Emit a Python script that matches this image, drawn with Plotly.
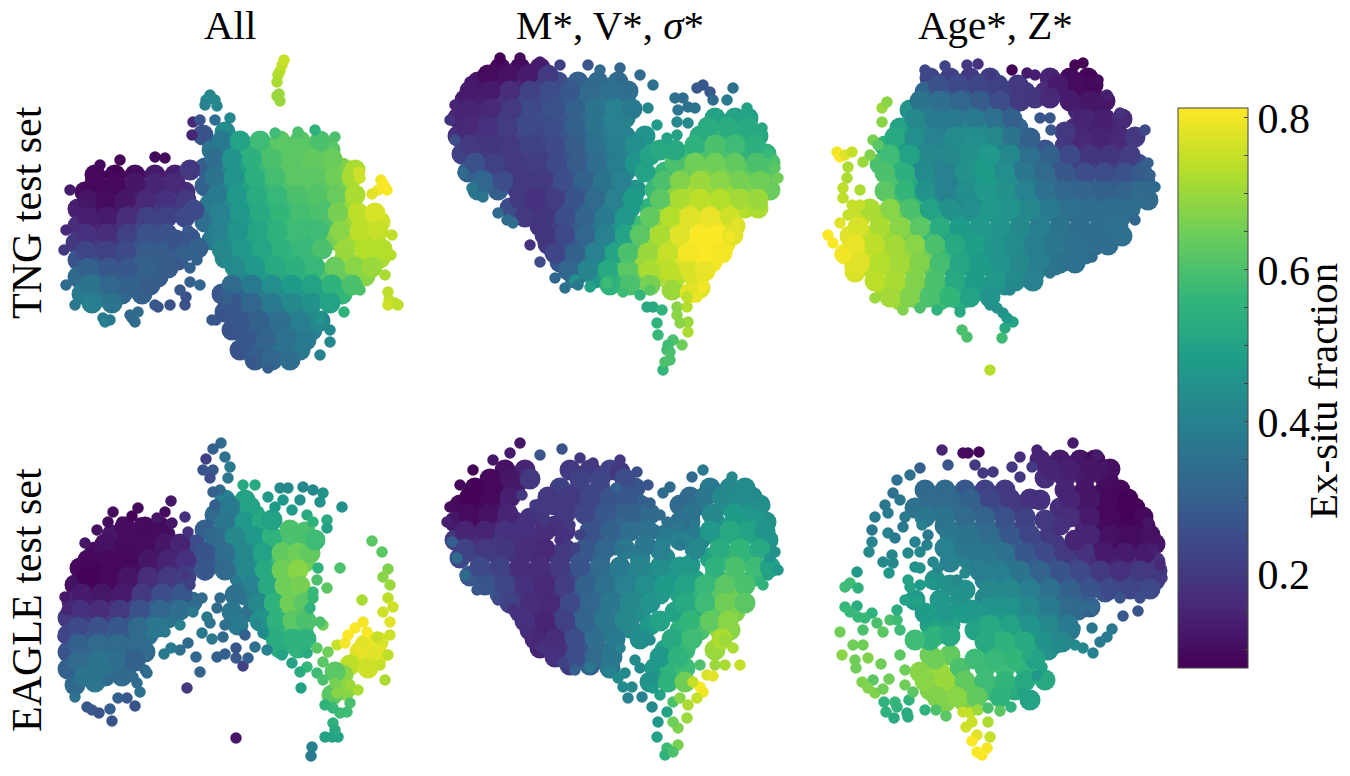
import plotly.graph_objects as go

# Each point: (horizontal, vertical, ex-situ fraction)
tng_all_core = [
(95,175,.09),(115,175,.08),(135,175,.1),(155,175,.13),(175,175,.14),
(85,192,.1),(105,192,.09),(125,192,.1),(145,192,.14),(165,192,.16),(185,192,.17),
(78,209,.14),(96,209,.11),(116,209,.12),(136,209,.17),(156,209,.2),(176,209,.2),
(78,226,.17),(98,226,.15),(118,226,.17),(138,226,.23),(158,226,.24),
(76,243,.2),(96,243,.2),(116,243,.2),(136,243,.27),(156,243,.28),
(78,260,.27),(98,260,.27),(118,260,.24),(138,260,.3),(158,260,.29),(178,260,.28),
(78,277,.33),(98,277,.33),(118,277,.29),(138,277,.3),(158,277,.29),
(82,294,.38),(102,294,.36),(122,294,.32),(142,294,.3),
(225,132,.43),(203,135,.27),
(212,150,.36),(230,150,.45),(250,150,.55),(270,150,.6),(290,150,.62),(310,150,.62),(330,150,.62),
(205,168,.3),(222,168,.42),(242,168,.5),(262,168,.58),(282,168,.62),(302,168,.63),(322,168,.63),(342,168,.67),(355,170,.72),
(205,186,.3),(225,186,.42),(245,186,.5),(265,186,.56),(285,186,.6),(305,186,.62),(325,186,.62),(345,186,.67),
(210,204,.38),(230,204,.44),(250,204,.5),(270,204,.55),(290,204,.58),(310,204,.6),(330,204,.6),(348,204,.7),
(205,222,.34),(225,222,.42),(245,222,.48),(265,222,.54),(285,222,.58),(305,222,.58),(325,222,.6),(345,222,.7),(365,222,.75),(380,222,.76),
(212,240,.38),(232,240,.45),(252,240,.5),(272,240,.54),(292,240,.58),(312,240,.57),(335,240,.66),(355,240,.72),(375,240,.73),
(225,258,.42),(245,258,.47),(265,258,.52),(285,258,.56),(305,258,.57),(345,258,.7),(365,258,.72),(380,258,.72),
(245,276,.42),(265,276,.48),(285,276,.52),(305,276,.55),(325,276,.6),(345,276,.64),(365,276,.68),
(222,294,.28),(242,294,.32),(262,294,.4),(282,294,.44),(302,294,.47),(322,294,.5),(342,294,.56),
(225,312,.27),(245,312,.3),(265,312,.36),(285,312,.38),(305,312,.42),
(232,330,.27),(252,330,.29),(272,330,.33),(292,330,.36),(312,330,.4),
(240,350,.27),(260,350,.3),(280,350,.36),(300,350,.38),
]
tng_all_fill = [
(95,183,.09),(115,183,.09),(135,183,.12),(155,183,.15),(175,183,.16),
(88,200,.12),(106,200,.1),(126,200,.12),(146,200,.16),(166,200,.18),(186,200,.2),
(88,217,.14),(107,217,.13),(127,217,.17),(147,217,.22),(167,217,.22),(185,217,.24),
(86,234,.18),(107,234,.17),(127,234,.22),(147,234,.26),(167,234,.26),
(86,251,.23),(106,251,.22),(126,251,.24),(146,251,.29),(166,251,.29),(186,251,.3),
(88,268,.3),(108,268,.28),(128,268,.28),(148,268,.3),(168,268,.29),
(90,285,.36),(110,285,.32),(130,285,.3),(150,285,.29),(92,303,.39),(112,303,.36),
(222,141,.38),(240,141,.5),(260,141,.58),(280,141,.62),(300,141,.62),(320,141,.6),
(215,159,.34),(232,159,.46),(252,159,.54),(272,159,.6),(292,159,.62),(312,159,.63),(332,159,.64),
(215,177,.36),(234,177,.46),(255,177,.54),(275,177,.59),(295,177,.62),(315,177,.62),(335,177,.65),(352,177,.72),
(217,195,.38),(237,195,.47),(257,195,.53),(277,195,.57),(297,195,.6),(317,195,.61),(337,195,.64),(355,195,.72),
(220,213,.4),(240,213,.47),(260,213,.52),(280,213,.56),(300,213,.59),(320,213,.6),(338,213,.66),(358,213,.74),(375,213,.77),
(218,231,.4),(238,231,.46),(258,231,.51),(278,231,.55),(298,231,.58),(318,231,.58),(340,231,.68),(360,231,.74),(378,231,.75),
(222,249,.42),(242,249,.47),(262,249,.51),(282,249,.55),(302,249,.57),(322,249,.6),(345,249,.7),(365,249,.73),(382,249,.73),
(235,267,.43),(255,267,.47),(275,267,.52),(295,267,.54),(315,267,.57),(335,267,.64),(355,267,.68),(372,267,.7),
(232,285,.33),(252,285,.38),(272,285,.44),(292,285,.48),(312,285,.5),(332,285,.55),(352,285,.6),
(232,303,.28),(252,303,.32),(272,303,.38),(292,303,.42),(312,303,.45),(330,303,.5),
(240,321,.28),(260,321,.3),(280,321,.34),(300,321,.39),(320,321,.42),
(246,340,.28),(266,340,.31),(286,340,.35),(306,340,.38),(255,360,.29),(272,360,.32),(290,360,.34),
(190,170,.2),(194,210,.24),(190,238,.27),(198,248,.3),(176,240,.27),
]
tng_all_edge = [
(284,60,.75),(282,65,.75),(280,71,.74),(278,75,.73),(277,82,.72),(277,96,.7),(280,101,.7),(279,94,.7),
(210,95,.42),(206,100,.42),(215,100,.42),(217,106,.42),(205,105,.4),
(381,180,.8),(384,185,.81),(387,190,.81),(378,190,.8),(372,194,.78),(359,172,.76),(360,178,.76),
(388,292,.74),(389,300,.75),(395,303,.74),(388,305,.76),(398,305,.74),
(103,318,.38),(105,322,.4),(110,320,.38),(130,315,.33),(132,318,.33),(135,322,.33),(138,312,.33),
(158,307,.27),(170,305,.26),(185,305,.26),(186,297,.26),
(193,122,.16),(192,135,.15),(155,157,.1),(165,158,.1),(120,160,.08),(100,165,.09),(70,190,.13),
(66,230,.16),(64,250,.2),(66,285,.33),(75,305,.37),(90,305,.4),(200,120,.27),(215,120,.34),(230,118,.42),
(298,132,.6),(315,130,.55),(335,137,.6),(275,133,.58),(392,235,.74),(391,255,.73),(385,275,.72),
(360,290,.6),(344,312,.55),(320,318,.45),(330,330,.42),(330,342,.42),(320,355,.4),(268,368,.3),(252,362,.28),(216,320,.27),(212,320,.28),
(228,298,.3),(182,250,.3),(190,268,.3),(190,282,.3),(197,260,.3),(188,230,.28),(200,285,.32),(180,290,.28),(155,305,.28),
]

tng_stellar_core = [
(500,68,.09),(520,68,.1),(540,68,.13),
(478,82,.12),(498,82,.12),(518,82,.16),(538,82,.22),(558,82,.25),(578,82,.3),(598,82,.33),(618,82,.33),
(465,100,.13),(485,100,.14),(505,100,.18),(525,100,.23),(545,100,.25),(565,100,.27),(585,100,.33),(605,100,.37),(625,100,.36),
(458,118,.15),(478,118,.16),(498,118,.2),(518,118,.24),(540,118,.25),(565,118,.27),(585,118,.33),(605,118,.4),(625,118,.4),
(458,136,.17),(478,136,.18),(498,136,.2),(518,136,.23),(540,136,.23),(565,136,.27),(585,136,.32),(605,136,.38),(625,136,.4),(645,136,.46),
(462,154,.22),(482,154,.2),(502,154,.2),(522,154,.21),(545,154,.22),(565,154,.26),(585,154,.31),(605,154,.36),(625,154,.4),(645,154,.47),
(468,172,.3),(488,172,.25),(508,172,.2),(528,172,.2),(548,172,.22),(568,172,.26),(588,172,.32),(608,172,.37),(625,172,.42),
(478,190,.36),(498,190,.3),(518,190,.2),(538,190,.19),(558,190,.23),(578,190,.28),(598,190,.34),(618,190,.38),(636,190,.46),
(510,208,.25),(530,208,.18),(550,208,.2),(570,208,.27),(590,208,.33),(610,208,.4),(630,208,.48),
(540,226,.18),(560,226,.22),(580,226,.29),(600,226,.36),(620,226,.45),(635,226,.55),
(548,244,.2),(568,244,.27),(588,244,.35),(608,244,.45),
(560,262,.27),(580,262,.36),(600,262,.45),
(575,278,.37),(595,278,.47),(615,278,.56),(635,278,.63),
(715,118,.5),(735,118,.5),(748,118,.5),
(700,136,.52),(720,136,.57),(740,136,.55),(758,136,.52),
(690,154,.58),(710,154,.6),(730,154,.6),(750,154,.56),(766,154,.55),
(665,172,.57),(685,172,.64),(705,172,.67),(725,172,.66),(745,172,.62),(765,172,.63),
(655,190,.57),(675,190,.68),(695,190,.72),(715,190,.7),(735,190,.7),(755,190,.67),(770,190,.64),
(650,208,.55),(665,208,.68),(685,208,.76),(705,208,.75),(725,208,.75),(745,208,.73),(758,208,.72),
(640,226,.58),(660,226,.7),(680,226,.76),(700,226,.8),(720,226,.8),(735,226,.77),
(630,244,.6),(650,244,.7),(670,244,.76),(690,244,.81),(710,244,.81),(725,244,.8),
(620,262,.6),(640,262,.7),(660,262,.74),(680,262,.78),(700,262,.81),(712,262,.8),
(655,278,.72),(675,278,.73),(695,278,.76),(700,288,.78),
]
tng_stellar_fill = [
(488,75,.1),(508,75,.11),(528,75,.13),(548,75,.2),
(470,91,.13),(490,91,.13),(510,91,.17),(530,91,.22),(550,91,.25),(570,91,.28),(590,91,.33),(610,91,.35),(628,91,.34),
(470,109,.15),(490,109,.16),(512,109,.2),(532,109,.24),(552,109,.26),(575,109,.3),(595,109,.36),(615,109,.4),(632,109,.38),
(468,127,.16),(488,127,.18),(508,127,.21),(528,127,.24),(552,127,.25),(575,127,.3),(595,127,.36),(615,127,.4),
(470,145,.2),(490,145,.19),(510,145,.2),(530,145,.22),(555,145,.24),(575,145,.29),(595,145,.35),(615,145,.39),(635,145,.44),
(475,163,.26),(495,163,.22),(515,163,.2),(537,163,.21),(557,163,.24),(577,163,.29),(597,163,.34),(617,163,.39),(635,163,.46),
(483,181,.32),(503,181,.25),(523,181,.2),(543,181,.2),(563,181,.25),(583,181,.3),(603,181,.36),(621,181,.4),
(520,199,.2),(535,199,.18),(555,199,.21),(575,199,.27),(595,199,.33),(615,199,.4),(633,199,.48),
(525,217,.2),(545,217,.19),(565,217,.25),(585,217,.31),(605,217,.38),(625,217,.47),
(545,235,.19),(565,235,.24),(585,235,.32),(605,235,.4),(625,235,.5),
(555,253,.23),(575,253,.3),(595,253,.4),(615,253,.5),
(568,270,.32),(588,270,.41),(608,270,.52),(628,270,.62),(648,270,.7),
(708,127,.53),(728,127,.53),(748,127,.52),
(695,145,.55),(715,145,.6),(735,145,.58),(755,145,.54),
(675,163,.6),(695,163,.65),(715,163,.65),(735,163,.63),(757,163,.6),(770,163,.6),
(663,181,.6),(680,181,.67),(700,181,.7),(720,181,.68),(740,181,.66),(760,181,.65),
(660,199,.62),(680,199,.72),(700,199,.74),(720,199,.73),(740,199,.71),(758,199,.7),
(650,217,.63),(670,217,.73),(690,217,.78),(710,217,.79),(730,217,.76),
(640,235,.62),(660,235,.72),(680,235,.78),(700,235,.81),(718,235,.81),(733,235,.78),
(628,253,.6),(648,253,.7),(668,253,.75),(688,253,.8),(708,253,.81),(722,253,.8),
(650,271,.72),(670,271,.74),(690,271,.77),(705,271,.79),
(645,172,.5),(650,155,.5),(660,150,.52),(675,150,.52),
(610,285,.55),(630,285,.6),(650,285,.66),(672,290,.7),(690,293,.78),
]
tng_stellar_edge = [
(647,307,.52),(653,307,.52),(662,310,.55),(657,323,.55),(658,335,.57),(667,350,.58),(670,360,.6),(663,370,.56),
(682,345,.65),(673,340,.6),(688,332,.72),(688,322,.7),(680,323,.68),(677,315,.68),(677,307,.68),(687,307,.73),
(703,287,.8),(697,297,.79),(687,297,.74),(668,345,.58),(670,352,.6),(665,362,.6),
(590,287,.5),(607,283,.58),(623,292,.58),(640,295,.56),(575,280,.45),(650,290,.62),
(588,65,.27),(653,85,.35),(648,108,.42),(657,125,.48),(667,138,.5),(677,135,.5),(677,122,.42),
(703,85,.27),(697,88,.28),(710,92,.28),(713,100,.33),(733,88,.35),(727,100,.38),(675,98,.35),(683,98,.34),
(678,110,.37),(688,107,.35),(695,108,.36),(688,123,.42),(747,108,.5),(762,128,.52),(768,153,.57),(778,178,.65),(775,168,.62),
(760,205,.7),(737,223,.78),(730,237,.8),(720,250,.8),
(498,213,.33),(507,220,.33),(513,223,.34),(450,120,.18),(455,140,.25),(463,173,.33),(472,188,.37),(483,197,.36),
(620,68,.32),(640,75,.33),(500,58,.08),(520,58,.1),(540,62,.13),(560,65,.22),(600,70,.33),(470,82,.13),(455,105,.15),
(530,245,.18),(540,262,.25),(555,278,.32),(565,288,.35),(578,285,.38),
]

tng_chem_core = [
(930,78,.23),(950,78,.22),(970,78,.2),(990,78,.22),(1050,78,.15),(1070,78,.1),(1088,78,.08),
(925,92,.32),(945,92,.3),(965,92,.28),(985,92,.25),(1005,92,.22),(1025,92,.2),(1045,92,.17),(1065,92,.12),(1085,92,.1),
(910,110,.45),(930,110,.38),(950,110,.36),(970,110,.35),(990,110,.33),(1010,110,.28),(1078,110,.16),(1085,110,.14),(1100,110,.13),
(900,128,.5),(920,128,.42),(940,128,.38),(960,128,.42),(980,128,.42),(1000,128,.37),(1018,128,.32),(1075,128,.16),(1095,128,.14),(1115,128,.15),
(885,146,.55),(905,146,.48),(925,146,.41),(945,146,.42),(965,146,.45),(985,146,.46),(1005,146,.4),(1025,150,.33),(1045,150,.27),(1065,146,.2),(1085,146,.17),(1105,146,.16),(1125,146,.17),
(880,164,.6),(900,164,.55),(920,164,.43),(940,164,.4),(960,164,.43),(980,164,.48),(1000,164,.44),(1020,164,.36),(1040,164,.33),(1060,164,.27),(1080,164,.22),(1100,164,.21),(1120,164,.22),(1138,164,.25),
(890,182,.6),(910,182,.52),(930,182,.42),(950,182,.39),(970,182,.46),(990,182,.48),(1010,182,.44),(1030,182,.37),(1050,182,.33),(1070,182,.3),(1090,182,.29),(1110,182,.28),(1130,182,.3),(1145,182,.32),
(895,200,.6),(915,200,.55),(935,200,.45),(955,200,.41),(975,200,.43),(995,200,.47),(1015,200,.45),(1035,200,.4),(1055,200,.36),(1075,200,.33),(1095,200,.33),(1115,200,.33),(1135,200,.33),(1148,200,.33),
(860,218,.75),(880,218,.72),(900,218,.66),(920,218,.6),(940,218,.52),(960,218,.46),(980,218,.46),(1000,218,.47),(1020,218,.44),(1040,218,.4),(1060,218,.36),(1080,218,.34),(1100,218,.35),(1120,218,.34),
(850,236,.78),(870,236,.74),(890,236,.7),(910,236,.66),(930,236,.57),(950,236,.5),(970,236,.49),(990,236,.48),(1010,236,.44),(1030,236,.4),(1050,236,.37),(1070,236,.35),(1090,236,.34),(1110,236,.35),(1122,236,.35),
(845,254,.8),(865,254,.76),(885,254,.72),(905,254,.7),(925,254,.65),(945,254,.56),(965,254,.5),(985,254,.47),(1005,254,.44),(1025,254,.4),(1045,254,.38),(1065,254,.36),(1085,254,.35),
(855,272,.77),(875,272,.73),(895,272,.72),(915,272,.69),(935,272,.62),(955,272,.52),(975,272,.5),(995,272,.48),(1015,272,.45),(1035,272,.4),(1055,265,.37),
(885,290,.72),(905,290,.7),(925,290,.62),(945,290,.56),(965,290,.5),(985,290,.48),(1005,285,.45),
(900,300,.7),(920,300,.65),(940,300,.58),(960,300,.54),
]
tng_chem_fill = [
(938,85,.26),(958,85,.24),(978,85,.23),(998,85,.22),(1018,85,.2),(1058,85,.13),(1078,85,.1),(1093,85,.09),
(920,101,.36),(940,101,.34),(960,101,.32),(980,101,.29),(1000,101,.25),(1020,101,.2),(1070,101,.13),(1090,101,.12),(1105,101,.12),
(915,119,.42),(935,119,.38),(955,119,.38),(975,119,.38),(995,119,.35),(1012,119,.3),(1085,119,.15),(1105,119,.14),(1122,119,.16),
(895,137,.52),(915,137,.44),(935,137,.4),(955,137,.43),(975,137,.44),(995,137,.42),(1012,137,.36),(1080,137,.16),(1100,137,.15),(1120,137,.16),(1135,137,.2),
(890,155,.58),(910,155,.5),(930,155,.42),(950,155,.42),(970,155,.45),(990,155,.47),(1010,155,.42),(1030,155,.35),(1050,155,.3),(1070,155,.24),(1090,155,.19),(1110,155,.19),(1130,155,.21),
(885,173,.6),(905,173,.54),(925,173,.43),(945,173,.4),(965,173,.45),(985,173,.48),(1005,173,.44),(1025,173,.37),(1045,173,.33),(1065,173,.28),(1085,173,.25),(1105,173,.25),(1125,173,.26),(1142,173,.29),
(885,191,.62),(905,191,.56),(925,191,.45),(945,191,.4),(965,191,.44),(985,191,.47),(1005,191,.45),(1025,191,.4),(1045,191,.35),(1065,191,.32),(1085,191,.31),(1105,191,.3),(1125,191,.31),(1142,191,.33),
(870,209,.72),(890,209,.68),(910,209,.6),(930,209,.5),(950,209,.45),(970,209,.44),(990,209,.47),(1010,209,.46),(1030,209,.42),(1050,209,.38),(1070,209,.35),(1090,209,.34),(1110,209,.34),(1130,209,.34),
(858,227,.77),(880,227,.72),(900,227,.68),(920,227,.62),(940,227,.53),(960,227,.48),(980,227,.47),(1000,227,.46),(1020,227,.42),(1040,227,.39),(1060,227,.36),(1080,227,.34),(1100,227,.34),(1118,227,.35),
(855,245,.79),(875,245,.74),(895,245,.71),(915,245,.68),(935,245,.6),(955,245,.52),(975,245,.49),(995,245,.46),(1015,245,.43),(1035,245,.39),(1055,245,.37),(1075,245,.35),(1095,245,.34),(1108,245,.34),
(860,263,.78),(880,263,.73),(900,263,.71),(920,263,.67),(940,263,.59),(960,263,.51),(980,263,.48),(1000,263,.46),(1020,263,.42),(1040,263,.39),(1060,263,.36),(1075,263,.35),
(875,281,.74),(895,281,.72),(915,281,.67),(935,281,.6),(955,281,.52),(975,281,.48),(995,281,.47),(1015,281,.43),(1033,281,.4),
(890,297,.71),(910,297,.67),(930,297,.6),(950,297,.56),(970,297,.5),(990,297,.46),
(1035,98,.19),(1050,98,.16),(1030,138,.3),(1065,132,.2),
]
tng_chem_edge = [
(882,108,.7),(887,102,.68),(882,122,.68),(873,140,.66),(837,152,.8),(840,157,.81),(845,155,.78),(852,152,.75),
(848,167,.72),(847,178,.72),(843,188,.74),(843,198,.74),(863,162,.7),(870,155,.67),(878,145,.62),
(828,235,.81),(833,243,.81),(840,255,.8),(850,267,.78),(840,223,.78),(875,298,.7),
(903,310,.67),(920,308,.6),(937,310,.55),(960,312,.52),(990,305,.45),(1003,313,.45),(1013,322,.5),(1005,328,.52),(1002,338,.58),
(962,330,.6),(967,337,.6),(990,370,.73),(997,308,.45),(1007,318,.47),
(1155,187,.33),(1148,163,.3),(1145,130,.24),(1120,113,.18),(1107,95,.14),
(1092,257,.33),(1067,265,.35),(1050,273,.36),(1028,283,.4),(1010,290,.42),(1120,240,.34),(1135,220,.32),
(1012,70,.08),(1027,73,.13),(978,64,.18),(967,65,.2),(990,75,.2),(1083,63,.08),(1075,65,.08),(1050,118,.28),(1040,118,.27),(1051,130,.28),
(1035,75,.14),(925,70,.24),(945,66,.23),(1098,80,.1),(1148,190,.33),(1150,175,.3),
(860,190,.72),(860,205,.75),(852,205,.75),(848,215,.75),
]

eagle_all_core = [
(112,535,.12),(130,535,.1),(150,535,.09),(165,535,.11),
(95,552,.1),(115,552,.1),(135,552,.1),(155,552,.12),(175,552,.15),
(80,568,.09),(100,568,.08),(120,568,.09),(140,568,.11),(160,568,.14),(180,568,.17),
(75,585,.11),(95,585,.09),(115,585,.1),(135,585,.14),(155,585,.2),(175,585,.22),
(72,602,.16),(92,602,.14),(112,602,.16),(132,602,.22),(152,602,.28),(172,602,.3),(192,602,.33),
(68,618,.2),(88,618,.2),(108,618,.22),(128,618,.27),(148,618,.33),(168,618,.36),
(68,635,.23),(88,635,.28),(108,635,.3),(128,635,.3),(148,635,.35),(154,628,.38),
(68,652,.27),(88,652,.33),(108,652,.35),(128,652,.3),(145,652,.33),
(68,669,.3),(88,669,.35),(108,669,.35),(128,665,.3),(75,685,.33),(95,682,.37),
(225,500,.4),(245,500,.5),
(215,515,.33),(235,515,.43),(255,515,.52),
(205,530,.3),(225,530,.37),(245,530,.45),(265,530,.5),
(195,545,.25),(215,545,.3),(235,545,.38),(255,545,.43),(275,545,.55),(290,545,.6),(305,545,.6),
(195,562,.26),(215,562,.3),(235,562,.4),(255,562,.45),(270,562,.58),(290,562,.65),(305,562,.65),
(240,578,.38),(258,578,.45),(275,578,.62),(292,578,.67),
(245,595,.37),(262,595,.45),(280,595,.62),(295,595,.65),
(252,612,.35),(268,612,.47),(285,612,.63),(300,612,.62),
(268,630,.5),(285,630,.58),(303,630,.6),
(280,648,.53),(298,648,.55),
(360,652,.78),(350,665,.74),(343,675,.68),(378,642,.77),
]
eagle_all_fill = [
(125,527,.1),(145,527,.09),(160,527,.1),
(105,544,.11),(125,544,.1),(145,544,.1),(165,544,.12),(180,544,.15),
(88,560,.09),(108,560,.09),(128,560,.09),(148,560,.12),(168,560,.15),(186,560,.18),
(88,577,.08),(108,577,.09),(128,577,.12),(148,577,.17),(168,577,.2),(186,577,.22),
(82,594,.13),(102,594,.12),(122,594,.13),(142,594,.2),(162,594,.25),(182,594,.28),
(80,610,.18),(100,610,.17),(120,610,.2),(140,610,.26),(160,610,.32),(180,610,.34),
(78,627,.24),(98,627,.26),(118,627,.28),(138,627,.33),(158,627,.37),
(78,644,.3),(98,644,.33),(118,644,.33),(138,644,.33),
(78,661,.33),(98,661,.36),(118,661,.34),(135,661,.3),
(85,676,.36),(105,676,.36),(122,676,.33),
(230,507,.38),(250,507,.5),
(225,522,.37),(245,522,.47),(262,522,.52),
(215,537,.33),(235,537,.42),(255,537,.47),(272,537,.55),
(205,553,.27),(225,553,.34),(245,553,.42),(263,553,.5),(282,553,.63),(298,553,.65),(310,553,.63),
(205,570,.28),(225,570,.33),(247,570,.42),(265,570,.52),(282,570,.65),(298,570,.68),
(252,586,.4),(268,586,.52),(285,586,.65),(300,586,.66),
(258,603,.42),(274,603,.55),(290,603,.65),(304,603,.62),
(260,621,.45),(277,621,.55),(293,621,.62),(306,621,.6),
(276,639,.53),(293,639,.55),(306,639,.55),
(272,520,.5),(290,530,.6),(305,532,.6),(315,540,.58),
(235,595,.35),(232,612,.37),(238,625,.38),(365,645,.79),(378,655,.78),(368,668,.76),(345,690,.68),(335,672,.62),(332,695,.62),
]
eagle_all_edge = [
(221,443,.33),(213,449,.3),(206,459,.22),(225,457,.35),(203,470,.27),(213,470,.28),(230,467,.38),(228,478,.37),(210,478,.25),
(220,490,.33),(213,492,.3),(215,505,.3),(303,487,.42),(280,488,.43),(288,488,.42),(313,490,.42),(323,493,.45),(268,497,.47),
(255,485,.52),(243,485,.52),(283,500,.47),(300,500,.45),(320,502,.45),(342,507,.45),(292,510,.48),(307,515,.52),(327,520,.52),
(327,528,.5),(313,522,.55),(275,507,.48),(372,541,.62),(382,552,.62),(340,568,.6),(388,569,.67),(383,577,.68),(327,588,.62),
(390,585,.7),(362,600,.72),(388,598,.74),(393,607,.76),(383,612,.76),(318,568,.55),(317,580,.6),(313,592,.57),(313,598,.57),
(310,608,.55),(323,625,.65),(320,622,.6),(363,622,.8),(355,628,.81),(367,632,.81),(348,635,.81),(337,645,.75),(345,643,.8),
(377,637,.75),(390,622,.78),(390,635,.76),(388,655,.74),(385,680,.72),(380,665,.75),(363,642,.78),(317,648,.62),(317,673,.58),
(323,662,.62),(328,652,.65),(323,680,.6),(335,683,.66),(337,693,.68),(358,690,.72),(350,685,.7),(350,703,.6),(347,712,.58),
(340,713,.58),(333,708,.57),(325,705,.55),(333,723,.54),(325,737,.5),(332,737,.5),(338,737,.5),(335,730,.52),(312,747,.4),(311,756,.38),
(301,688,.5),(307,667,.57),(300,672,.53),(292,663,.5),(282,655,.5),(307,653,.53),(303,645,.55),
(236,738,.12),(187,688,.2),(200,672,.3),(196,657,.32),(243,666,.22),(236,648,.27),(248,658,.3),(236,658,.28),(225,654,.3),(217,657,.3),
(255,647,.35),(267,650,.4),(245,635,.3),(223,637,.33),(212,639,.37),(202,633,.37),(188,643,.33),(180,650,.35),(171,648,.38),(164,654,.38),
(263,633,.43),(257,623,.42),(225,625,.35),(210,623,.35),(193,612,.38),(207,617,.37),(217,608,.33),(202,598,.33),(220,598,.33),
(180,625,.4),(165,632,.38),(145,670,.33),
(147,673,.33),(137,683,.33),(140,692,.35),(108,680,.33),(120,678,.33),(133,677,.33),(118,698,.3),(127,698,.28),(135,706,.27),
(110,709,.3),(112,721,.27),(87,707,.28),(92,710,.28),(99,713,.27),(75,697,.35),(65,597,.12),(67,610,.15),(63,637,.23),
(113,512,.1),(138,508,.1),(132,516,.08),(171,501,.12),(165,512,.1),(157,518,.12),(85,543,.12),(97,530,.11),(108,522,.1),(122,522,.1),
(185,517,.18),(188,532,.18),(172,523,.12),(140,523,.1),(185,575,.2),(190,585,.22),(205,575,.28),
]

eagle_stellar_core = [
(505,470,.11),(525,470,.15),(570,470,.2),(590,470,.2),(610,470,.23),(620,472,.2),
(475,488,.08),(495,488,.09),(515,488,.13),(560,488,.22),(580,488,.22),(600,488,.24),(635,488,.27),
(460,505,.09),(480,505,.09),(500,505,.12),(555,505,.2),(575,505,.22),(595,505,.25),(615,510,.3),(640,505,.3),
(455,522,.12),(475,522,.1),(495,522,.15),(515,522,.18),(555,526,.18),(600,522,.27),(620,528,.32),(640,522,.33),
(455,540,.2),(475,540,.17),(495,540,.2),(515,540,.18),(535,540,.17),(595,540,.27),(615,545,.33),
(710,488,.38),(730,488,.42),(745,488,.43),
(680,505,.33),(700,505,.35),(725,505,.45),(745,505,.45),(760,505,.44),
(690,522,.38),(715,522,.45),(735,522,.5),(755,522,.48),(766,522,.45),
(700,540,.42),(720,540,.5),(740,540,.52),(760,540,.5),(768,540,.45),
(640,558,.4),(665,558,.42),(710,558,.5),(730,558,.57),(750,558,.55),
(460,558,.24),(480,558,.22),(500,558,.2),(520,558,.18),(540,558,.16),(560,558,.2),(580,558,.27),(600,558,.3),
(470,576,.28),(490,576,.25),(510,576,.2),(530,576,.17),(550,576,.18),(570,576,.23),(590,576,.32),(610,576,.37),(630,576,.4),(650,576,.43),(670,576,.46),(695,580,.5),(715,576,.57),(735,576,.6),(755,576,.56),
(500,594,.27),(520,594,.2),(540,594,.16),(560,594,.2),(580,594,.28),(600,594,.33),(620,594,.37),(640,594,.42),(660,594,.47),(680,594,.5),(700,594,.55),(720,594,.62),(740,594,.65),
(520,612,.18),(540,612,.16),(560,612,.22),(580,612,.3),(600,612,.35),(620,612,.4),(640,612,.44),(675,612,.5),(695,612,.53),(715,612,.62),(735,612,.67),
(530,630,.17),(550,630,.15),(570,630,.23),(590,630,.32),(612,632,.37),(630,628,.42),(650,625,.47),(680,630,.55),(700,630,.6),(720,630,.68),(730,630,.68),
(540,648,.15),(560,648,.18),(580,648,.27),(600,652,.35),(665,650,.5),(685,650,.57),(715,650,.7),
(570,665,.2),(590,665,.3),(610,668,.37),(655,668,.47),(670,668,.55),(685,668,.58),
(650,682,.45),(668,682,.55),(685,682,.65),
]
eagle_stellar_fill = [
(490,479,.09),(510,479,.12),(530,479,.2),(580,479,.22),(600,479,.23),(625,479,.25),
(470,497,.08),(490,497,.09),(510,497,.14),(548,497,.2),(570,497,.2),(590,497,.23),(610,497,.27),(628,497,.28),
(468,514,.1),(488,514,.11),(508,514,.15),(565,514,.2),(585,514,.23),(605,514,.28),(632,514,.3),(650,514,.33),
(465,531,.15),(485,531,.15),(505,531,.18),(525,531,.18),(545,531,.17),(565,531,.18),(590,531,.26),(610,531,.3),(630,531,.34),(648,531,.35),
(465,549,.22),(485,549,.2),(505,549,.19),(525,549,.17),(545,549,.16),(565,549,.2),(585,549,.28),(605,549,.32),(625,549,.38),
(480,567,.24),(500,567,.22),(520,567,.17),(540,567,.17),(560,567,.2),(580,567,.27),(600,567,.33),(620,567,.38),(640,567,.41),(660,567,.44),(680,567,.47),
(485,585,.27),(505,585,.23),(525,585,.18),(545,585,.16),(565,585,.21),(585,585,.3),(605,585,.35),(625,585,.4),(645,585,.44),(665,585,.48),(685,585,.5),(705,585,.57),(725,585,.62),(745,585,.6),
(510,603,.22),(530,603,.17),(550,603,.16),(570,603,.24),(590,603,.32),(610,603,.37),(630,603,.42),(650,603,.46),(685,603,.52),(705,603,.58),(725,603,.65),(745,603,.62),
(525,621,.18),(545,621,.15),(565,621,.22),(585,621,.31),(605,621,.37),(625,621,.42),(660,621,.5),(690,621,.56),(710,621,.63),(728,621,.68),
(535,639,.16),(555,639,.17),(575,639,.25),(595,639,.34),(615,639,.38),(640,639,.44),(672,639,.52),(692,639,.58),(722,639,.72),
(555,657,.18),(575,657,.25),(595,657,.33),(612,657,.37),(660,657,.47),(678,657,.55),
(690,497,.33),(705,497,.37),(722,497,.42),(740,497,.43),(752,497,.43),
(690,514,.36),(712,514,.42),(735,514,.48),(752,514,.47),
(690,531,.38),(710,531,.47),(730,531,.52),(750,531,.5),(765,531,.46),
(695,549,.42),(720,549,.53),(740,549,.56),(760,549,.52),
(715,567,.55),(735,567,.6),(755,567,.58),(770,567,.5),
(530,518,.18),(542,508,.2),(665,535,.38),(680,540,.4),(660,550,.4),(680,522,.35),(645,545,.37),(690,565,.47),
]
eagle_stellar_edge = [
(520,443,.12),(562,449,.27),(700,687,.81),(693,682,.75),(707,675,.77),(713,676,.78),(703,692,.8),(697,698,.75),(688,705,.72),(687,718,.7),(678,728,.67),
(678,745,.66),(667,748,.58),(665,755,.55),(673,752,.6),(657,737,.5),(658,722,.47),(652,707,.42),(667,712,.5),(673,722,.65),(673,702,.6),(680,698,.68),
(660,695,.5),(653,688,.47),(642,697,.4),(628,698,.4),(632,687,.42),(623,687,.43),(618,678,.43),(610,672,.42),(625,673,.43),(640,668,.43),
(670,487,.33),(663,493,.33),(692,477,.33),(703,470,.38),(732,477,.42),(757,505,.44),(778,570,.47),(775,552,.45),(768,575,.5),(770,558,.46),(763,585,.55),
(447,522,.14),(450,507,.1),(460,485,.09),(473,470,.08),(493,460,.12),(510,453,.13),(540,455,.27),(580,458,.2),(593,463,.2),(620,460,.2),(637,472,.25),
(648,485,.27),(650,503,.3),(660,515,.33),(667,522,.35),(678,527,.37),(452,542,.3),(457,558,.33),(465,575,.33),(477,590,.28),(498,600,.24),(513,610,.18),
(528,632,.17),(543,648,.18),(563,663,.22),(575,670,.3),(590,667,.37),(608,672,.4),(616,488,.3),(634,551,.37),(620,548,.36),(650,543,.37),(655,530,.35),
(535,505,.2),(522,495,.2),(545,520,.2),(570,525,.2),(580,535,.22),(560,540,.18),(575,548,.22),(610,525,.3),(665,545,.4),(695,555,.42),(680,545,.38),
(740,665,.75),(725,665,.72),(715,665,.7),(700,665,.6),(733,648,.72),(725,640,.7),(640,640,.44),(635,660,.43),(620,648,.4),(650,640,.43),
]

eagle_chem_core = [
(1040,460,.15),(1060,460,.13),(1080,460,.12),(1095,460,.1),
(1045,478,.17),(1065,478,.15),(1085,478,.13),(1105,478,.12),
(925,490,.33),(945,490,.33),(965,490,.28),(985,490,.22),(1005,490,.2),(1065,490,.15),(1085,490,.12),(1105,490,.1),(1120,490,.09),
(915,508,.35),(935,508,.35),(955,508,.33),(975,508,.3),(995,508,.25),(1015,508,.2),(1060,508,.17),(1080,508,.13),(1100,508,.09),(1120,508,.08),(1135,508,.08),
(945,526,.36),(965,526,.35),(985,526,.33),(1005,526,.27),(1025,526,.23),(1085,526,.15),(1105,526,.1),(1125,526,.09),(1145,526,.1),
(955,544,.36),(975,544,.36),(995,544,.36),(1015,544,.3),(1035,544,.25),(1055,544,.2),(1100,544,.12),(1120,544,.1),(1140,544,.1),(1155,544,.12),
(975,562,.38),(995,562,.38),(1015,562,.35),(1035,562,.3),(1055,562,.27),(1075,562,.23),(1095,562,.17),(1115,562,.15),(1135,562,.17),(1155,562,.18),
(985,580,.4),(1005,580,.4),(1025,580,.37),(1045,580,.32),(1065,580,.28),(1085,580,.25),(1105,580,.22),(1125,580,.22),(1145,580,.23),(1155,580,.22),
(985,598,.42),(1005,598,.44),(1025,598,.42),(1045,598,.38),(1065,598,.33),(1085,595,.3),(1105,592,.27),
(985,616,.5),(1005,616,.48),(1025,616,.44),(1045,616,.4),(1065,616,.36),(1078,610,.33),
(1000,634,.55),(1020,634,.52),(1040,634,.47),(1060,634,.4),(1070,630,.37),
(990,650,.55),(1010,650,.55),(1030,650,.55),(1048,650,.45),
(930,655,.65),(950,655,.63),(960,668,.6),(985,668,.58),(1005,668,.58),(1025,668,.55),
(920,672,.68),(940,672,.7),
(930,690,.67),(950,690,.68),(970,690,.62),(990,690,.58),(1015,690,.53),
(945,702,.67),(965,702,.67),
(930,625,.5),(950,625,.5),(975,630,.5),(915,600,.47),(940,600,.47),(960,600,.45),
]
eagle_chem_fill = [
(1050,469,.15),(1070,469,.14),(1090,469,.12),(1110,469,.11),
(930,499,.33),(950,499,.33),(970,499,.3),(990,499,.23),(1010,499,.2),(1030,499,.18),(1070,499,.15),(1090,499,.12),(1110,499,.09),(1128,499,.08),
(925,517,.37),(945,517,.36),(965,517,.33),(985,517,.31),(1005,517,.26),(1025,517,.22),(1070,517,.17),(1090,517,.13),(1110,517,.09),(1130,517,.08),(1143,517,.09),
(950,535,.37),(970,535,.36),(990,535,.33),(1010,535,.28),(1030,535,.23),(1050,535,.2),(1090,535,.15),(1110,535,.11),(1130,535,.1),(1150,535,.11),
(965,553,.37),(985,553,.37),(1005,553,.35),(1025,553,.28),(1045,553,.24),(1065,553,.2),(1085,553,.18),(1105,553,.13),(1125,553,.13),(1145,553,.13),
(980,571,.39),(1000,571,.39),(1020,571,.36),(1040,571,.31),(1060,571,.27),(1080,571,.24),(1100,571,.2),(1120,571,.18),(1140,571,.2),(1157,571,.2),
(990,589,.42),(1010,589,.42),(1030,589,.39),(1050,589,.35),(1070,589,.3),(1090,589,.27),(1110,589,.24),(1130,589,.23),(1150,589,.24),
(990,607,.46),(1010,607,.46),(1030,607,.42),(1050,607,.38),(1070,607,.33),(1090,607,.3),
(990,625,.52),(1010,625,.5),(1030,625,.46),(1050,625,.42),(1068,625,.38),
(985,642,.52),(1005,642,.55),(1025,642,.52),(1045,642,.45),(1062,642,.42),
(935,659,.65),(975,659,.58),(995,659,.57),(1015,659,.56),(1035,659,.5),
(925,681,.68),(945,681,.7),(965,681,.63),(985,681,.58),(1005,681,.56),(1025,681,.52),
(937,697,.67),(957,697,.68),(977,697,.63),(1000,697,.55),
(935,636,.55),(950,636,.52),(930,640,.55),(925,613,.48),(945,613,.47),(965,613,.48),
(1040,500,.18),(1060,525,.18),(1075,540,.15),
(945,548,.4),(950,562,.4),(935,580,.45),(950,585,.45),(965,590,.45),(972,610,.47),(1045,520,.2),(915,640,.58),(1045,680,.52),(1030,700,.5),
]
eagle_chem_edge = [
(942,450,.15),(963,453,.1),(968,453,.1),(979,452,.08),(975,465,.2),(948,465,.27),(920,468,.3),(910,475,.35),(897,480,.35),(993,472,.2),(983,473,.2),
(1012,467,.2),(1020,457,.17),(1020,477,.2),(1032,467,.2),(893,493,.35),(885,505,.37),(900,500,.37),(875,517,.38),(888,513,.38),(905,517,.38),
(872,530,.37),(888,533,.4),(895,538,.38),(903,527,.38),(872,542,.4),(869,552,.42),(883,562,.42),(892,555,.42),(893,563,.42),(889,573,.47),(857,572,.47),
(915,542,.4),(908,553,.42),(920,552,.42),(927,545,.4),(922,525,.4),(928,535,.38),(915,567,.45),(920,568,.45),(933,562,.42),(938,568,.42),(965,563,.4),
(965,573,.42),(957,580,.42),(845,587,.58),(850,583,.58),(858,588,.55),(845,607,.57),(857,606,.53),(850,612,.57),(858,617,.57),(865,618,.57),(872,613,.55),
(863,630,.6),(877,623,.6),(883,632,.62),(890,620,.6),(900,630,.58),(897,620,.58),(897,610,.53),(905,600,.5),(908,580,.5),(910,587,.5),(917,602,.5),
(920,585,.48),(930,583,.47),(840,632,.65),(853,645,.65),(863,645,.65),(842,655,.68),(855,660,.65),(868,658,.67),(856,668,.65),(881,664,.65),(862,682,.67),
(873,680,.62),(889,679,.65),(868,688,.67),(875,693,.67),(883,689,.65),(884,702,.55),(895,702,.57),(897,707,.55),(886,712,.55),(894,718,.52),(907,713,.53),
(908,717,.53),(909,700,.55),(913,692,.62),(925,710,.55),(936,710,.6),(946,716,.62),(963,712,.75),(970,713,.75),(978,710,.7),(988,708,.6),(1000,711,.62),
(1011,707,.55),(988,722,.72),(972,722,.76),(966,727,.76),(977,735,.78),(990,737,.75),(972,741,.81),(987,748,.8),(977,752,.81),(982,755,.81),
(1162,578,.2),(1153,550,.14),(1123,616,.28),(1138,611,.27),(1120,598,.27),(1140,598,.25),(1092,628,.37),(1112,629,.37),(1107,637,.38),(1100,642,.38),
(1093,653,.4),(1083,648,.42),(1075,645,.43),(1057,648,.43),(1047,647,.45),(1093,608,.33),(1083,607,.33),(1075,628,.38),(1042,667,.5),(1037,675,.47),
(1027,655,.52),(1023,692,.5),(1000,692,.55),(1007,682,.55),(1130,498,.08),(1113,480,.1),(1097,455,.13),(1103,467,.12),(1148,522,.12),
(1073,443,.13),(1037,450,.15),(1160,565,.16),(900,655,.62),(905,670,.65),(905,685,.65),
]

column_titles = ["All", "M*, V*, <i>σ</i>*", "Age*, Z*"]
row_titles = ["TNG test set", "EAGLE test set"]
colorbar_title = "Ex-situ fraction"
tick_values = [.1,.15,.2,.25,.3,.35,.4,.45,.5,.55,.6,.65,.7,.75,.8]
tick_labels = ["","","0.2","","","","0.4","","","","0.6","","","","0.8"]

W, H = 1350, 776
FONT = "Liberation Serif"
panels = [
    (tng_all_core + tng_all_fill, tng_all_edge, (30, 415), (40, 390)),
    (tng_stellar_core + tng_stellar_fill, tng_stellar_edge, (440, 795), (40, 390)),
    (tng_chem_core + tng_chem_fill, tng_chem_edge, (820, 1170), (40, 390)),
    (eagle_all_core + eagle_all_fill, eagle_all_edge, (30, 415), (425, 770)),
    (eagle_stellar_core + eagle_stellar_fill, eagle_stellar_edge, (440, 795), (425, 770)),
    (eagle_chem_core + eagle_chem_fill, eagle_chem_edge, (820, 1170), (425, 770)),
]

fig = go.Figure()
layout = {}
for i, (core, edge, xr, yr) in enumerate(panels, start=1):
    xa, ya = f"x{i}", f"y{i}"
    for pts, size in ((core, 21), (edge, 11.5)):
        fig.add_trace(go.Scatter(
            x=[p[0] for p in pts], y=[p[1] for p in pts], xaxis=xa, yaxis=ya,
            mode="markers", showlegend=False, hoverinfo="skip", cliponaxis=False,
            marker=dict(size=size, color=[p[2] for p in pts], coloraxis="coloraxis", line_width=0),
        ))
    layout[f"xaxis{i}"] = dict(domain=[xr[0]/W, xr[1]/W], range=list(xr), visible=False, fixedrange=True)
    layout[f"yaxis{i}"] = dict(domain=[1-yr[1]/H, 1-yr[0]/H], range=[yr[1], yr[0]], visible=False, fixedrange=True)

notes = []
for text, cx in zip(column_titles, (230, 610, 995)):
    notes.append(dict(text=text, x=cx/W, y=1-25/H, xref="paper", yref="paper", showarrow=False,
                      xanchor="center", yanchor="middle", font=dict(size=41, family=FONT, color="black")))
for text, cy in zip(row_titles, (213, 600)):
    notes.append(dict(text=text, x=27/W, y=1-cy/H, xref="paper", yref="paper", showarrow=False, textangle=-90,
                      xanchor="center", yanchor="middle", font=dict(size=42, family=FONT, color="black")))
notes.append(dict(text=colorbar_title, x=1323/W, y=1-391/H, xref="paper", yref="paper", showarrow=False, textangle=-90,
                  xanchor="center", yanchor="middle", font=dict(size=41, family=FONT, color="black")))

fig.update_layout(
    width=W, height=H, margin=dict(l=0, r=0, t=0, b=0), paper_bgcolor="white", plot_bgcolor="white",
    annotations=notes,
    coloraxis=dict(
        colorscale="Viridis", cmin=0.0763, cmax=0.813,
        colorbar=dict(
            x=1178/W, xanchor="left", xpad=0, y=1-668/H, yanchor="bottom", ypad=0,
            thickness=70, thicknessmode="pixels", len=560, lenmode="pixels",
            outlinewidth=1, outlinecolor="#444", tickmode="array", tickvals=tick_values, ticktext=tick_labels,
            ticks="inside", ticklen=4, tickwidth=1, tickcolor="#444",
            tickfont=dict(size=42, family=FONT, color="black"),
        ),
    ),
    **layout,
)
fig.write_html("out.html", config=dict(displayModeBar=False),
               post_script="document.body.style.margin='0';document.documentElement.style.overflow='hidden';")
